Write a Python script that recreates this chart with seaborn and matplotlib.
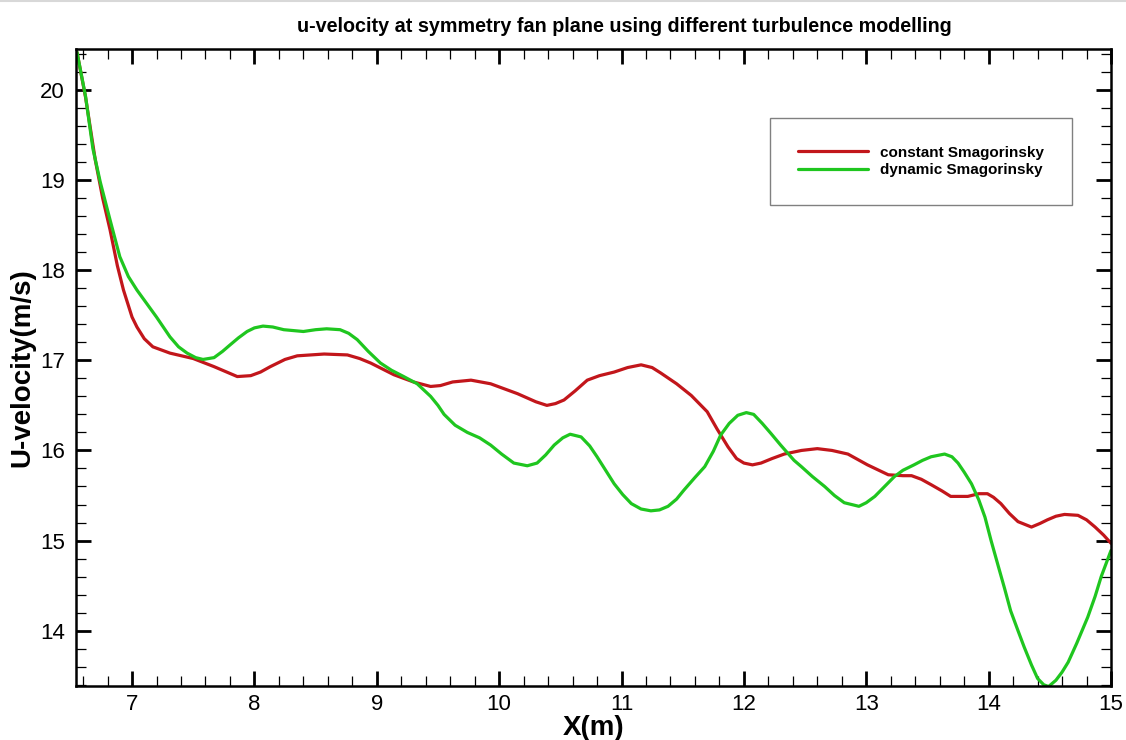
import matplotlib
matplotlib.use("Agg")
import matplotlib.pyplot as plt
from matplotlib.ticker import MultipleLocator
from matplotlib.lines import Line2D
import numpy as np
import pandas as pd
import seaborn as sns

# Streamwise position (m) and u-velocity (m/s) for each subgrid model
x_const = [6.55, 6.62, 6.70, 6.76, 6.82, 6.88, 6.93, 7.00, 7.04, 7.10, 7.17, 7.31,
           7.50, 7.67, 7.86, 7.97, 8.05, 8.13, 8.25, 8.35, 8.57, 8.76, 8.86, 8.95,
           9.14, 9.30, 9.44, 9.52, 9.62, 9.77, 9.93, 10.15, 10.30, 10.39, 10.46,
           10.53, 10.62, 10.72, 10.82, 10.94, 11.05, 11.16, 11.25, 11.32, 11.45,
           11.57, 11.70, 11.78, 11.87, 11.94, 12.00, 12.07, 12.14, 12.23, 12.33,
           12.47, 12.60, 12.72, 12.85, 13.01, 13.18, 13.30, 13.37, 13.45, 13.53,
           13.62, 13.69, 13.83, 13.92, 13.99, 14.04, 14.10, 14.17, 14.24, 14.35,
           14.42, 14.48, 14.55, 14.62, 14.73, 14.80, 14.87, 14.94, 15.00]
u_const = [20.42, 19.92, 19.22, 18.80, 18.45, 18.05, 17.78, 17.48, 17.37, 17.24,
           17.15, 17.08, 17.02, 16.93, 16.82, 16.83, 16.87, 16.93, 17.01, 17.05,
           17.07, 17.06, 17.02, 16.97, 16.84, 16.76, 16.71, 16.72, 16.76, 16.78,
           16.74, 16.63, 16.54, 16.50, 16.52, 16.56, 16.66, 16.78, 16.83, 16.87,
           16.92, 16.95, 16.92, 16.86, 16.74, 16.61, 16.43, 16.24, 16.04, 15.91,
           15.86, 15.84, 15.86, 15.91, 15.96, 16.00, 16.02, 16.00, 15.96, 15.84,
           15.73, 15.72, 15.72, 15.68, 15.62, 15.55, 15.49, 15.49, 15.52, 15.52,
           15.48, 15.41, 15.30, 15.21, 15.15, 15.19, 15.23, 15.27, 15.29, 15.28,
           15.23, 15.15, 15.06, 14.97]

x_dyn = [6.55, 6.62, 6.68, 6.74, 6.82, 6.90, 6.97, 7.04, 7.12, 7.20, 7.31, 7.38,
         7.45, 7.52, 7.58, 7.67, 7.74, 7.80, 7.87, 7.94, 8.00, 8.07, 8.15, 8.24,
         8.40, 8.50, 8.59, 8.70, 8.77, 8.84, 8.93, 9.03, 9.12, 9.22, 9.33, 9.44,
         9.50, 9.55, 9.64, 9.74, 9.84, 9.93, 10.02, 10.12, 10.23, 10.31, 10.38,
         10.45, 10.52, 10.58, 10.67, 10.74, 10.80, 10.87, 10.94, 11.01, 11.08,
         11.16, 11.24, 11.31, 11.38, 11.45, 11.51, 11.60, 11.68, 11.75, 11.81,
         11.88, 11.95, 12.02, 12.08, 12.15, 12.22, 12.30, 12.41, 12.47, 12.56,
         12.66, 12.74, 12.82, 12.94, 13.00, 13.07, 13.15, 13.23, 13.30, 13.39,
         13.46, 13.53, 13.64, 13.70, 13.75, 13.80, 13.86, 13.92, 13.97, 14.02,
         14.08, 14.13, 14.18, 14.24, 14.29, 14.35, 14.40, 14.45, 14.49, 14.55,
         14.60, 14.65, 14.72, 14.81, 14.87, 14.92, 15.00]
u_dyn = [20.42, 19.93, 19.35, 18.98, 18.56, 18.15, 17.93, 17.78, 17.63, 17.48,
         17.26, 17.15, 17.08, 17.03, 17.01, 17.03, 17.10, 17.17, 17.25, 17.32,
         17.36, 17.38, 17.37, 17.34, 17.32, 17.34, 17.35, 17.34, 17.30, 17.23,
         17.10, 16.97, 16.89, 16.82, 16.74, 16.60, 16.50, 16.40, 16.28, 16.20,
         16.14, 16.06, 15.96, 15.86, 15.83, 15.86, 15.95, 16.06, 16.14, 16.18,
         16.15, 16.05, 15.93, 15.78, 15.63, 15.51, 15.41, 15.35, 15.33, 15.34,
         15.38, 15.46, 15.56, 15.70, 15.82, 15.99, 16.17, 16.30, 16.39, 16.42,
         16.40, 16.30, 16.19, 16.06, 15.89, 15.82, 15.71, 15.60, 15.50, 15.42,
         15.38, 15.42, 15.49, 15.60, 15.71, 15.78, 15.84, 15.89, 15.93, 15.96,
         15.93, 15.86, 15.76, 15.63, 15.45, 15.26, 15.00, 14.71, 14.47, 14.22,
         14.00, 13.82, 13.62, 13.47, 13.40, 13.38, 13.45, 13.54, 13.65, 13.86,
         14.15, 14.38, 14.60, 14.89]

series_names = ["constant Smagorinsky", "dynamic Smagorinsky"]
series_colors = ["#c2161b", "#1fc61f"]

df = pd.concat([
    pd.DataFrame({"X": x_const, "U": u_const, "model": series_names[0]}),
    pd.DataFrame({"X": x_dyn, "U": u_dyn, "model": series_names[1]}),
], ignore_index=True)

sns.set_style("white")
plt.rcParams["font.family"] = ["Liberation Sans", "DejaVu Sans"]
plt.rcParams["text.color"] = "black"
plt.rcParams["axes.labelcolor"] = "black"
plt.rcParams["xtick.color"] = "black"
plt.rcParams["ytick.color"] = "black"

fig = plt.figure(figsize=(11.26, 7.40), dpi=100)
ax = fig.add_axes([76 / 1126, 1 - 686 / 740, (1111 - 76) / 1126, (686 - 49) / 740])

sns.lineplot(data=df, x="X", y="U", hue="model", palette=dict(zip(series_names, series_colors)),
             estimator=None, sort=False, linewidth=2.3, legend=False, ax=ax)

ax.set_xlim(6.542, 15.0)
ax.set_ylim(13.386, 20.455)

ax.xaxis.set_major_locator(MultipleLocator(1))
ax.xaxis.set_minor_locator(MultipleLocator(0.2))
ax.yaxis.set_major_locator(MultipleLocator(1))
ax.yaxis.set_minor_locator(MultipleLocator(0.2))

ax.tick_params(which="both", direction="in", top=True, right=True,
               bottom=True, left=True, colors="black", labelcolor="black")
ax.tick_params(which="major", length=11, width=2.0, labelsize=16, pad=8)
ax.tick_params(which="minor", length=7, width=0.9)
ax.tick_params(axis="x", which="major", pad=6)

for sp in ax.spines.values():
    sp.set_visible(True)
    sp.set_color("black")
    sp.set_linewidth(1.8)

ax.set_xlabel("X(m)", fontsize=20, fontweight="bold", labelpad=0, color="black")
ax.set_ylabel("U-velocity(m/s)", fontsize=20, fontweight="bold", labelpad=3, color="black")

fig.text(624 / 1126, 1 - 27 / 740, "u-velocity at symmetry fan plane using different turbulence modelling",
         ha="center", va="center", fontsize=14.2, fontweight="bold", color="black")

handles = [Line2D([], [], color=c, linewidth=2.3) for c in series_colors]
leg = ax.legend(handles, series_names, loc="upper left",
                bbox_to_anchor=(770 / 1126, 1 - 118 / 740), bbox_transform=fig.transFigure,
                borderaxespad=0, frameon=True, fancybox=False, framealpha=1,
                edgecolor="#808080", borderpad=1.8, handlelength=4.6,
                handletextpad=0.8, labelspacing=0.25,
                prop={"family": "Liberation Sans", "weight": "bold", "size": 11})
leg.get_frame().set_linewidth(1.0)
for t in leg.get_texts():
    t.set_color("black")

fig.add_artist(Line2D([0, 1], [0.998, 0.998], transform=fig.transFigure, color="#d8d8d8", linewidth=1.5))

fig.savefig("out.png", dpi=100, facecolor="white")
